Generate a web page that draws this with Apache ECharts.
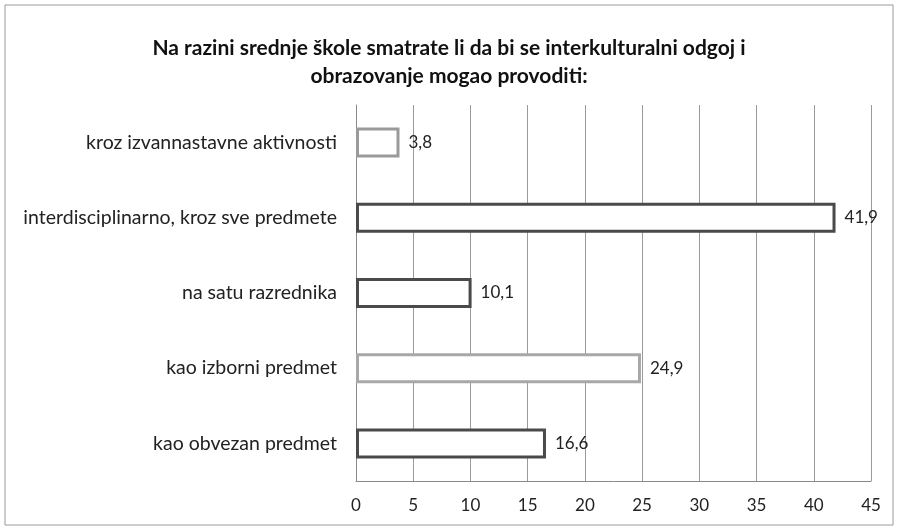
<!DOCTYPE html>
<html>
<head>
<meta charset="utf-8" />
<style>
  html, body { margin: 0; padding: 0; background: #fff; }
  #main { width: 898px; height: 530px; }
</style>
</head>
<body>
<div id="main"></div>
<script src="https://cdn.jsdelivr.net/npm/echarts@6/dist/echarts.min.js"></script>
<script>
// categories listed bottom-up (ECharts category axis starts at the bottom)
const categories = [
  'kao obvezan predmet',
  'kao izborni predmet',
  'na satu razrednika',
  'interdisciplinarno, kroz sve predmete',
  'kroz izvannastavne aktivnosti'
];
const values = [16.6, 24.9, 10.1, 41.9, 3.8];
const xTicks = [0, 5, 10, 15, 20, 25, 30, 35, 40, 45];

// outline colour per bar (scan shows some darker, some lighter)
const outline = ['#4a4a4a', '#a8a8a8', '#4a4a4a', '#4a4a4a', '#9a9a9a'];

const chart = echarts.init(document.getElementById('main'));
const font = 'Lato, "Open Sans", sans-serif';

chart.setOption({
  animation: false,
  backgroundColor: '#fff',
  title: {
    text: 'Na razini srednje škole smatrate li da bi se interkulturalni odgoj i\nobrazovanje mogao provoditi:',
    left: 'center',
    top: 29,
    textStyle: { fontFamily: font, fontSize: 21, fontWeight: 'bold', color: '#111', lineHeight: 28 }
  },
  graphic: [{
    type: 'rect',
    shape: { x: 5, y: 5, width: 888, height: 520 },
    style: { fill: 'none', stroke: '#9a9a9a', lineWidth: 1 },
    silent: true
  }],
  grid: { left: 356, right: 27, top: 105, bottom: 49 },
  xAxis: {
    type: 'value',
    min: xTicks[0],
    max: xTicks[xTicks.length - 1],
    interval: 5,
    axisLine: { show: true, lineStyle: { color: '#8a8a8a', width: 1 } },
    axisTick: { show: false },
    axisLabel: { fontFamily: font, fontSize: 17, color: '#222', margin: 16 },
    splitLine: { show: true, lineStyle: { color: '#9a9a9a', width: 1 } }
  },
  yAxis: {
    type: 'category',
    data: categories,
    axisLine: { show: true, lineStyle: { color: '#8a8a8a', width: 1 } },
    axisTick: { show: false },
    axisLabel: { fontFamily: font, fontSize: 19.5, color: '#222', margin: 19 }
  },
  series: [{
    type: 'bar',
    data: values.map((v, i) => ({
      value: v,
      itemStyle: { color: '#fff', borderColor: outline[i], borderWidth: 3 }
    })),
    barWidth: 30,
    label: {
      show: true,
      position: 'right',
      distance: 9,
      fontFamily: font,
      fontSize: 17,
      color: '#222',
      formatter: p => String(p.value).replace('.', ',')
    }
  }]
});
</script>
</body>
</html>
